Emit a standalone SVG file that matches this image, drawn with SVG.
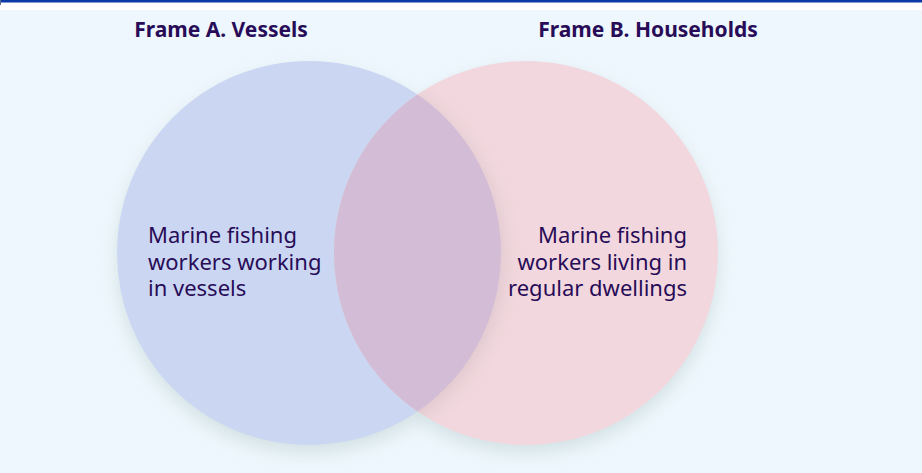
<svg xmlns="http://www.w3.org/2000/svg" width="922" height="473" viewBox="0 0 922 473">
  <style>
    .title { font-family: "Noto Sans", "Open Sans", "DejaVu Sans", sans-serif; font-weight: 700; font-size: 21px; fill: #280c58; }
    .label { font-family: "Noto Sans", "Open Sans", "DejaVu Sans", sans-serif; font-weight: 400; font-size: 22px; fill: #280c58; }
  </style>
  <defs>
    <filter id="soft-shadow" x="-20%" y="-20%" width="140%" height="140%">
      <feGaussianBlur stdDeviation="9"/>
    </filter>
    <clipPath id="clip-vessels">
      <circle cx="309" cy="253" r="192"/>
    </clipPath>
    <clipPath id="clip-households">
      <circle cx="526" cy="253" r="192"/>
    </clipPath>
  </defs>

  <!-- page background and top rule -->
  <rect x="0" y="0" width="922" height="473" fill="#eef7fd"/>
  <rect x="0" y="0" width="922" height="10" fill="#ffffff"/>
  <rect x="0" y="0" width="922" height="2.5" fill="#0b3aa6"/>
  <rect x="0" y="0" width="1" height="5" fill="#5a6a8a"/>

  <!-- drop shadows under both sets -->
  <g id="shadows" filter="url(#soft-shadow)" fill="#8fa9a2" opacity="0.28">
    <circle cx="309" cy="261" r="192"/>
    <circle cx="526" cy="261" r="192"/>
  </g>

  <!-- Frame A: vessels -->
  <g id="frame-a">
    <circle cx="309" cy="253" r="192" fill="#cbd7f2"/>
  </g>

  <!-- Frame B: households -->
  <g id="frame-b">
    <circle cx="526" cy="253" r="192" fill="#f2d8de"/>
    <!-- faint shadow of frame A seen through frame B -->
    <g clip-path="url(#clip-households)">
      <circle cx="312" cy="258" r="192" fill="#b9a9ae" opacity="0.35" filter="url(#soft-shadow)"/>
    </g>
  </g>

  <!-- overlap of the two frames -->
  <g id="overlap">
    <circle cx="526" cy="253" r="192" fill="#d3bdd6" clip-path="url(#clip-vessels)"/>
  </g>

  <!-- headings -->
  <g id="heading-a">
    <text class="title" x="221" y="37" text-anchor="middle">Frame A. Vessels</text>
  </g>
  <g id="heading-b">
    <text class="title" x="648" y="37" text-anchor="middle">Frame B. Households</text>
  </g>

  <!-- set descriptions -->
  <g id="label-a">
    <text class="label" x="148" y="243">Marine fishing</text>
    <text class="label" x="148" y="269.5">workers working</text>
    <text class="label" x="148" y="296">in vessels</text>
  </g>
  <g id="label-b">
    <text class="label" x="687" y="243" text-anchor="end">Marine fishing</text>
    <text class="label" x="687" y="269.5" text-anchor="end">workers living in</text>
    <text class="label" x="687" y="296" text-anchor="end">regular dwellings</text>
  </g>

  <!-- no connectors in this diagram -->
  <g id="connectors"/>
</svg>
